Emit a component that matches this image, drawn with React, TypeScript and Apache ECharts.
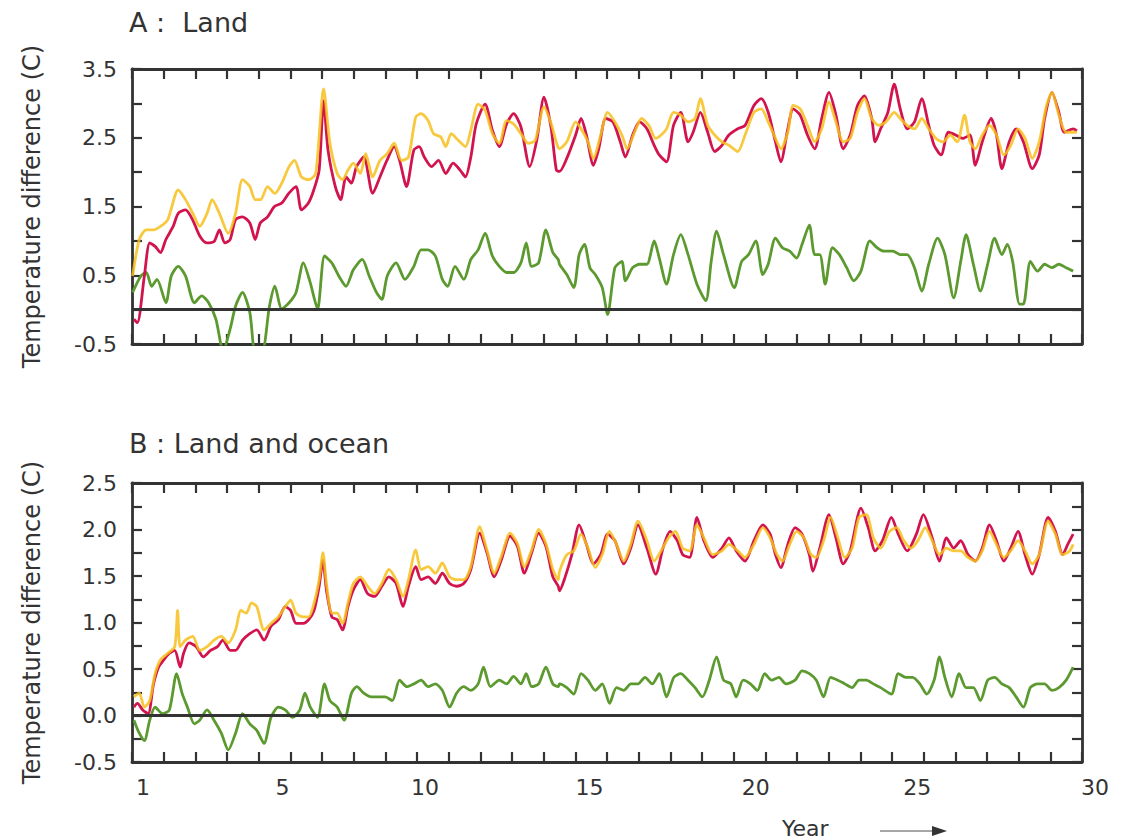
import React, { useEffect, useRef } from "react";
import * as echarts from "echarts";

// ---------- data: [year, temperature difference (C)] ----------
const landRed = [
  [0.06,-0.14],[0.17,-0.19],[0.39,0.49],[0.56,0.97],[0.73,0.92],[0.9,0.83],[1.07,1.02],[1.3,1.21],[1.46,1.4],[1.69,1.45],
  [1.91,1.31],[2.14,1.07],[2.36,0.97],[2.59,0.99],[2.76,1.16],[2.93,0.97],[3.1,1.02],[3.27,1.31],[3.49,1.35],[3.72,1.26],
  [3.89,1.02],[4.05,1.26],[4.28,1.35],[4.5,1.5],[4.73,1.55],[4.95,1.69],[5.18,1.79],[5.35,1.45],[5.57,1.55],[5.74,1.74],
  [5.91,2.03],[6.05,3.04],[6.19,2.32],[6.42,1.79],[6.59,1.6],[6.76,1.93],[6.93,1.84],[7.09,2.08],[7.32,2.22],[7.6,1.69],
  [7.83,1.93],[8.05,2.17],[8.28,2.37],[8.45,2.17],[8.67,1.79],[8.9,2.32],[9.07,2.37],[9.23,2.22],[9.46,2.08],[9.68,2.17],
  [9.91,1.98],[10.14,2.13],[10.36,2.03],[10.53,1.93],[10.7,2.22],[10.87,2.7],[11.15,2.99],[11.38,2.61],[11.6,2.37],[11.83,2.7],
  [12.05,2.85],[12.28,2.66],[12.56,2.08],[12.78,2.46],[13.01,3.09],[13.23,2.66],[13.4,2.03],
  [13.5,2.01],[13.73,2.2],[14.01,2.54],[14.18,2.78],[14.35,2.54],[14.57,2.1],[14.74,2.34],[14.96,2.78],[15.19,2.73],[15.42,2.44],
  [15.58,2.22],[15.81,2.54],[16.03,2.73],[16.26,2.63],[16.49,2.39],[16.65,2.25],[16.88,2.15],[17.1,2.68],[17.33,2.87],[17.56,2.44],
  [17.72,2.58],[17.95,2.87],[18.18,2.58],[18.4,2.3],[18.63,2.39],[18.85,2.54],[19.13,2.63],[19.36,2.68],[19.64,2.97],[19.87,3.07],
  [20.09,2.87],[20.32,2.44],[20.49,2.15],[20.71,2.63],[20.88,2.92],[21.1,2.83],[21.33,2.54],[21.56,2.34],[21.78,2.78],[22.01,3.16],
  [22.23,2.83],[22.46,2.34],[22.68,2.54],[22.91,2.97],[23.13,3.11],[23.36,2.78],[23.47,2.44],[23.64,2.63],[23.87,2.87],[24.07,3.28],
  [24.26,2.92],[24.48,2.63],[24.71,2.73],[24.94,3.07],[25.16,2.68],[25.33,2.39],[25.55,2.25],[25.78,2.58],[26.01,2.54],[26.23,2.49],
  [26.46,2.54],[26.63,2.1],[26.85,2.44],[27.13,2.78],[27.3,2.54],[27.47,2.05],[27.7,2.44],[27.92,2.63],[28.15,2.44],[28.43,2.05],
  [28.65,2.25],[28.82,2.78],[29.05,3.16],[29.27,2.87],[29.44,2.58],[29.72,2.63],[29.84,2.6]
];

const landYellow = [
  [0.02,0.49],[0.23,1.02],[0.45,1.16],[0.68,1.16],[0.9,1.21],[1.13,1.31],[1.46,1.74],[1.69,1.6],[1.92,1.4],[2.14,1.21],
  [2.37,1.4],[2.53,1.6],[2.76,1.4],[3.04,1.11],[3.27,1.4],[3.49,1.89],[3.72,1.79],[3.89,1.6],[4.06,1.6],[4.28,1.79],
  [4.51,1.69],[4.73,1.84],[4.96,2.08],[5.13,2.17],[5.35,1.93],[5.58,1.89],[5.8,1.98],[6.05,3.21],[6.25,2.42],[6.48,1.98],
  [6.65,1.89],[6.82,2.03],[6.99,2.13],[7.21,1.98],[7.38,2.27],[7.6,1.93],[7.83,2.17],[8.06,2.27],[8.28,2.42],[8.51,2.17],
  [8.73,2.22],[8.96,2.8],[9.13,2.85],[9.35,2.75],[9.52,2.56],[9.75,2.51],[9.91,2.37],[10.08,2.56],[10.31,2.46],[10.53,2.37],
  [10.7,2.61],[10.93,2.99],[11.15,2.9],[11.38,2.56],[11.6,2.42],[11.83,2.75],[12.05,2.7],[12.28,2.56],[12.51,2.42],[12.73,2.46],
  [13.01,2.95],[13.24,2.7],[13.41,2.42],
  [13.5,2.34],[13.73,2.44],[14.01,2.73],[14.18,2.63],[14.4,2.44],[14.57,2.2],[14.8,2.54],[15.02,2.87],[15.25,2.73],[15.47,2.54],
  [15.64,2.34],[15.87,2.58],[16.09,2.78],[16.32,2.68],[16.54,2.49],[16.71,2.54],[16.88,2.63],[17.1,2.87],[17.33,2.83],[17.56,2.73],
  [17.78,2.78],[17.95,3.07],[18.18,2.68],[18.4,2.54],[18.63,2.44],[18.85,2.39],[19.13,2.3],[19.36,2.54],[19.64,2.87],[19.87,2.92],
  [20.09,2.73],[20.32,2.49],[20.49,2.34],[20.71,2.58],[20.88,2.97],[21.1,2.92],[21.33,2.68],[21.56,2.44],[21.78,2.63],[22.01,3.02],
  [22.23,2.73],[22.46,2.44],[22.68,2.49],[22.91,2.87],[23.13,3.07],[23.36,2.78],[23.58,2.68],[23.81,2.73],[24.07,2.87],[24.26,2.78],
  [24.48,2.68],[24.71,2.63],[24.94,2.78],[25.16,2.63],[25.39,2.49],[25.61,2.44],[25.84,2.54],[26.06,2.44],[26.29,2.83],[26.46,2.44],
  [26.63,2.34],[26.85,2.54],[27.08,2.68],[27.3,2.54],[27.53,2.25],[27.75,2.39],[27.98,2.63],[28.2,2.49],[28.43,2.2],[28.65,2.44],
  [28.88,2.97],[29.05,3.16],[29.27,2.83],[29.5,2.58],[29.84,2.58]
];

const landGreen = [
  [0.02,0.25],[0.28,0.49],[0.45,0.54],[0.62,0.34],[0.79,0.44],[1.07,0.1],[1.24,0.49],[1.46,0.63],[1.69,0.49],[1.97,0.1],
  [2.2,0.2],[2.42,0.1],[2.65,-0.14],[2.88,-0.6],[3.1,-0.28],[3.27,0.05],[3.49,0.25],[3.72,-0.04],[3.89,-0.6],[4.11,-0.6],
  [4.34,0.05],[4.51,0.34],[4.73,0.01],[4.96,0.1],[5.18,0.25],[5.41,0.68],[5.63,0.39],[5.86,0.01],[6.08,0.78],[6.31,0.68],
  [6.53,0.49],[6.76,0.34],[6.99,0.58],[7.27,0.73],[7.49,0.49],[7.72,0.25],[7.89,0.15],[8.06,0.49],[8.34,0.68],[8.62,0.44],
  [8.9,0.63],[9.13,0.87],[9.35,0.87],[9.58,0.78],[9.8,0.44],[9.97,0.34],[10.2,0.63],[10.48,0.44],[10.7,0.73],[10.93,0.87],
  [11.15,1.11],[11.38,0.78],[11.6,0.63],[11.83,0.54],[12.05,0.54],[12.28,0.68],[12.45,0.97],[12.62,0.63],[12.84,0.68],[13.07,1.16],
  [13.29,0.83],[13.46,0.73],
  [13.5,0.66],[13.73,0.51],[13.95,0.32],[14.12,0.8],[14.29,0.95],[14.46,0.61],[14.63,0.51],[14.85,0.32],[15.02,-0.07],[15.25,0.61],
  [15.47,0.7],[15.58,0.42],[15.81,0.61],[16.03,0.66],[16.26,0.66],[16.49,1.0],[16.65,0.75],[16.88,0.37],[17.1,0.8],[17.33,1.09],
  [17.56,0.8],[17.84,0.37],[18.12,0.13],[18.29,0.7],[18.46,1.14],[18.68,0.8],[19.02,0.32],[19.25,0.7],[19.47,0.8],[19.7,1.0],
  [19.92,0.51],[20.09,0.66],[20.32,1.04],[20.54,0.9],[20.77,0.85],[20.99,0.75],[21.16,0.95],[21.39,1.23],[21.56,0.8],[21.72,0.8],
  [21.89,0.37],[22.12,0.9],[22.34,0.8],[22.57,0.61],[22.79,0.42],[23.02,0.56],[23.3,1.0],[23.53,0.9],[23.75,0.85],[24.03,0.85],
  [24.26,0.8],[24.48,0.8],[24.71,0.61],[24.94,0.27],[25.16,0.66],[25.44,1.04],[25.67,0.8],[25.95,0.17],[26.17,0.7],[26.34,1.09],
  [26.57,0.66],[26.79,0.27],[27.02,0.66],[27.24,1.04],[27.47,0.8],[27.64,0.95],[27.81,0.7],[28.03,0.08],[28.15,0.08],[28.37,0.7],
  [28.6,0.56],[28.82,0.66],[29.05,0.61],[29.27,0.66],[29.5,0.61],[29.72,0.56]
];

const bothRed = [
  [0.06,0.09],[0.17,0.13],[0.34,0.06],[0.51,0.02],[0.68,0.34],[0.84,0.52],[1.01,0.6],[1.18,0.67],[1.35,0.7],[1.52,0.52],
  [1.63,0.67],[1.8,0.78],[2.03,0.74],[2.25,0.63],[2.48,0.7],[2.7,0.74],[2.87,0.81],[3.1,0.7],[3.27,0.7],[3.49,0.81],
  [3.72,0.88],[3.94,0.92],[4.17,0.81],[4.39,0.96],[4.62,1.03],[4.84,1.17],[5.01,1.13],[5.18,0.99],[5.41,0.99],[5.58,1.03],
  [5.75,1.13],[5.91,1.39],[6.03,1.67],[6.14,1.35],[6.31,1.06],[6.48,1.03],[6.65,0.92],[6.82,1.17],[6.99,1.35],[7.21,1.46],
  [7.44,1.31],[7.66,1.28],[7.89,1.39],[8.11,1.49],[8.34,1.42],[8.56,1.17],[8.73,1.39],[8.96,1.6],[9.13,1.46],[9.35,1.49],
  [9.58,1.42],[9.8,1.53],[10.03,1.42],[10.25,1.39],[10.48,1.42],[10.7,1.57],[10.98,1.96],[11.21,1.75],[11.44,1.49],[11.66,1.67],
  [11.94,1.93],[12.17,1.82],[12.39,1.53],[12.62,1.75],[12.84,1.96],[13.07,1.82],[13.29,1.49],[13.46,1.39],
  [13.5,1.34],[13.67,1.48],[13.89,1.73],[14.12,2.05],[14.35,1.84],[14.57,1.63],[14.8,1.73],[15.02,1.95],[15.25,1.88],[15.53,1.63],
  [15.75,1.8],[15.98,2.05],[16.26,1.8],[16.54,1.52],[16.77,1.8],[16.99,1.98],[17.22,1.88],[17.39,1.73],[17.61,1.7],[17.84,2.13],
  [18.06,1.88],[18.34,1.7],[18.63,1.8],[18.85,1.91],[19.08,1.77],[19.36,1.66],[19.64,1.88],[19.92,2.05],[20.15,1.95],[20.32,1.73],
  [20.49,1.59],[20.71,1.84],[20.94,2.02],[21.16,1.95],[21.39,1.73],[21.5,1.55],[21.72,1.8],[22.01,2.16],[22.23,1.91],[22.46,1.63],
  [22.68,1.77],[23.02,2.23],[23.25,2.02],[23.47,1.77],[23.7,1.88],[23.98,2.13],[24.2,1.95],[24.48,1.77],[24.77,1.95],[24.99,2.16],
  [25.27,1.91],[25.5,1.66],[25.72,1.91],[25.95,1.8],[26.17,1.88],[26.4,1.73],[26.63,1.66],[26.85,1.8],[27.08,2.05],[27.3,1.88],
  [27.53,1.66],[27.75,1.8],[27.98,1.98],[28.2,1.73],[28.43,1.52],[28.65,1.73],[28.93,2.13],[29.16,1.98],[29.39,1.73],[29.55,1.84],
  [29.72,1.95]
];

const bothYellow = [
  [0.06,0.2],[0.23,0.24],[0.39,0.09],[0.56,0.16],[0.73,0.45],[0.9,0.6],[1.13,0.67],[1.35,0.74],[1.44,1.13],[1.52,0.74],
  [1.69,0.81],[1.92,0.85],[2.14,0.7],[2.37,0.74],[2.59,0.81],[2.82,0.85],[3.04,0.78],[3.27,0.92],[3.44,1.13],[3.61,1.1],
  [3.77,1.21],[3.94,1.17],[4.17,0.92],[4.39,0.99],[4.62,1.06],[4.84,1.17],[5.01,1.24],[5.18,1.1],[5.41,1.06],[5.58,1.06],
  [5.75,1.21],[5.91,1.46],[6.03,1.75],[6.14,1.42],[6.31,1.1],[6.48,1.1],[6.65,0.99],[6.82,1.21],[6.99,1.42],[7.21,1.49],
  [7.44,1.39],[7.66,1.31],[7.89,1.42],[8.11,1.57],[8.34,1.46],[8.56,1.28],[8.73,1.46],[8.96,1.78],[9.13,1.57],[9.35,1.6],
  [9.58,1.53],[9.8,1.64],[10.03,1.49],[10.25,1.46],[10.48,1.46],[10.7,1.6],[10.98,2.03],[11.21,1.78],[11.44,1.53],[11.66,1.71],
  [11.94,1.96],[12.17,1.85],[12.39,1.6],[12.62,1.78],[12.84,2.0],[13.07,1.85],[13.29,1.57],[13.46,1.46],
  [13.5,1.55],[13.73,1.73],[13.95,1.77],[14.18,1.95],[14.4,1.8],[14.63,1.59],[14.85,1.73],[15.08,1.98],[15.3,1.84],[15.53,1.66],
  [15.75,1.84],[15.98,2.09],[16.26,1.88],[16.49,1.66],[16.71,1.77],[16.94,1.91],[17.16,1.98],[17.39,1.8],[17.61,1.77],[17.84,2.05],
  [18.06,1.91],[18.34,1.73],[18.63,1.77],[18.85,1.84],[19.13,1.77],[19.36,1.7],[19.64,1.84],[19.92,2.02],[20.15,1.91],[20.37,1.73],
  [20.54,1.66],[20.77,1.84],[20.99,1.98],[21.22,1.91],[21.44,1.73],[21.61,1.7],[21.84,1.88],[22.06,2.13],[22.29,1.91],[22.51,1.7],
  [22.74,1.8],[22.96,2.13],[23.19,2.16],[23.41,1.91],[23.64,1.8],[23.92,1.98],[24.15,2.02],[24.37,1.88],[24.6,1.8],[24.82,1.88],
  [25.05,2.02],[25.27,1.88],[25.5,1.73],[25.72,1.8],[25.95,1.77],[26.17,1.77],[26.4,1.7],[26.63,1.66],[26.85,1.77],[27.08,1.98],
  [27.3,1.84],[27.53,1.7],[27.75,1.77],[27.98,1.88],[28.2,1.77],[28.43,1.63],[28.65,1.73],[28.93,2.09],[29.16,1.95],[29.39,1.73],
  [29.61,1.77],[29.72,1.84]
];

const bothGreen = [
  [0.06,-0.05],[0.23,-0.19],[0.39,-0.27],[0.56,-0.05],[0.73,0.09],[0.96,0.02],[1.18,0.06],[1.41,0.45],[1.58,0.24],[1.75,0.09],
  [1.97,-0.09],[2.14,-0.05],[2.37,0.06],[2.59,-0.05],[2.82,-0.19],[3.04,-0.37],[3.27,-0.19],[3.49,0.02],[3.72,-0.09],[3.94,-0.16],
  [4.17,-0.3],[4.39,-0.02],[4.62,0.09],[4.84,0.06],[5.07,-0.02],[5.3,0.06],[5.46,0.24],[5.63,0.09],[5.86,-0.02],[6.08,0.34],
  [6.25,0.16],[6.48,0.09],[6.7,-0.05],[6.93,0.24],[7.1,0.31],[7.32,0.24],[7.55,0.2],[7.77,0.2],[8.0,0.2],[8.22,0.16],
  [8.45,0.38],[8.68,0.31],[8.9,0.34],[9.13,0.38],[9.35,0.31],[9.58,0.34],[9.8,0.27],[10.03,0.09],[10.25,0.24],[10.48,0.31],
  [10.7,0.27],[10.93,0.34],[11.1,0.52],[11.32,0.31],[11.6,0.38],[11.83,0.34],[12.05,0.42],[12.28,0.34],[12.45,0.45],[12.62,0.31],
  [12.84,0.34],[13.07,0.52],[13.29,0.34],[13.46,0.31],
  [13.5,0.34],[13.73,0.3],[13.95,0.23],[14.18,0.45],[14.4,0.38],[14.63,0.27],[14.85,0.34],[15.08,0.13],[15.3,0.3],[15.53,0.27],
  [15.75,0.34],[15.98,0.34],[16.2,0.41],[16.43,0.34],[16.65,0.45],[16.88,0.2],[17.11,0.41],[17.33,0.45],[17.56,0.38],[17.78,0.3],
  [18.01,0.2],[18.23,0.38],[18.46,0.63],[18.68,0.38],[18.91,0.34],[19.08,0.2],[19.3,0.38],[19.53,0.34],[19.75,0.27],[19.98,0.45],
  [20.2,0.38],[20.43,0.41],[20.65,0.34],[20.94,0.38],[21.16,0.48],[21.39,0.45],[21.61,0.38],[21.84,0.2],[22.06,0.41],[22.29,0.38],
  [22.51,0.34],[22.74,0.3],[22.96,0.38],[23.19,0.38],[23.41,0.34],[23.64,0.3],[23.98,0.23],[24.2,0.45],[24.43,0.41],[24.65,0.41],
  [24.88,0.34],[25.1,0.23],[25.33,0.38],[25.5,0.63],[25.67,0.41],[25.89,0.2],[26.12,0.45],[26.34,0.3],[26.57,0.3],[26.79,0.16],
  [27.02,0.38],[27.24,0.41],[27.47,0.34],[27.7,0.3],[27.92,0.2],[28.15,0.09],[28.37,0.3],[28.6,0.34],[28.82,0.34],[29.05,0.27],
  [29.27,0.3],[29.5,0.38],[29.72,0.52]
];

// x tick labels (years) and where they sit on the year axis
const xLabelText = ["1", "5", "10", "15", "20", "25", "30"];
const xLabelAt = [0.35, 4.75, 9.25, 14.45, 19.7, 24.8, 30];

const panelTitles = ["A :  Land", "B : Land and ocean"];
const yName = "Temperature difference (C)";

const FONT = "'DejaVu Sans', 'Liberation Sans', sans-serif";
const INK = "#333";
const RED = "#d2144e";
const YELLOW = "#f7bf1c";
const GREEN = "#5c9a30";

export default function App() {
  const ref = useRef<HTMLDivElement>(null);

  useEffect(() => {
    if (!ref.current) return;
    const chart = echarts.init(ref.current, null, { renderer: "svg" });

    const frameLine = { show: true, onZero: false, lineStyle: { color: INK, width: 2.8 } };
    const tick = { show: true, inside: true, length: 10, lineStyle: { color: INK, width: 2.2 } };
    const lastLabel = xLabelText[xLabelText.length - 1];

    const xBase = (grid: number, pos: "top" | "bottom", labels: boolean) => ({
      type: "value",
      gridIndex: grid,
      position: pos,
      min: 0,
      max: 30,
      interval: 1,
      axisLine: frameLine,
      axisTick: tick,
      splitLine: { show: false },
      axisLabel: labels
        ? {
            show: true,
            customValues: xLabelAt,
            formatter: (v: number) => {
              const i = xLabelAt.findIndex((p) => Math.abs(p - v) < 1e-6);
              if (i < 0) return "";
              const s = xLabelText[i];
              return s === lastLabel ? "{end|" + s + "}" : s;
            },
            rich: {
              end: { padding: [0, 0, 0, 26], color: INK, fontSize: 22, fontFamily: FONT },
            },
            color: INK,
            fontSize: 22,
            fontFamily: FONT,
            margin: 14,
          }
        : { show: false },
    });

    const yBase = (
      grid: number,
      pos: "left" | "right",
      min: number,
      max: number,
      interval: number,
      labelStep: number,
      labels: boolean
    ) => ({
      type: "value",
      gridIndex: grid,
      position: pos,
      min,
      max,
      interval,
      axisLine: frameLine,
      axisTick: tick,
      splitLine: { show: false },
      name: labels ? yName : "",
      nameLocation: "middle",
      nameGap: 88,
      nameTextStyle: { color: INK, fontSize: 24, fontFamily: FONT },
      axisLabel: labels
        ? {
            show: true,
            color: INK,
            fontSize: 22,
            fontFamily: FONT,
            margin: 15,
            formatter: (v: number) => {
              const k = (v - min) / labelStep;
              return Math.abs(k - Math.round(k)) < 1e-6 ? v.toFixed(1) : "";
            },
          }
        : { show: false },
    });

    const line = (data: number[][], color: string, xi: number, yi: number, extra: any = {}) => ({
      type: "line",
      data,
      xAxisIndex: xi,
      yAxisIndex: yi,
      showSymbol: false,
      smooth: 0.25,
      clip: true,
      lineStyle: { color, width: 2.8 },
      itemStyle: { color },
      ...extra,
    });

    const zero = {
      markLine: {
        silent: true,
        symbol: ["none", "none"],
        label: { show: false },
        lineStyle: { color: INK, width: 2.8, type: "solid" },
        data: [{ yAxis: 0 }],
      },
    };

    const titleStyle = { color: INK, fontSize: 27, fontWeight: "normal", fontFamily: FONT };

    chart.setOption({
      animation: false,
      backgroundColor: "#fff",
      title: [
        { text: panelTitles[0], left: 129, top: 9, padding: 0, textStyle: titleStyle },
        { text: panelTitles[1], left: 129, top: 430, padding: 0, textStyle: titleStyle },
      ],
      grid: [
        { left: 132, right: 42, top: 69, height: 275 },
        { left: 132, right: 42, top: 483, height: 279 },
      ],
      xAxis: [
        xBase(0, "bottom", false),
        xBase(0, "top", false),
        xBase(1, "bottom", true),
        xBase(1, "top", false),
      ],
      yAxis: [
        yBase(0, "left", -0.5, 3.5, 0.5, 1, true),
        yBase(0, "right", -0.5, 3.5, 0.5, 1, false),
        yBase(1, "left", -0.5, 2.5, 0.25, 0.5, true),
        yBase(1, "right", -0.5, 2.5, 0.25, 0.5, false),
      ],
      series: [
        line(landGreen, GREEN, 0, 0, zero),
        line(landRed, RED, 0, 0),
        line(landYellow, YELLOW, 0, 0, { lineStyle: { color: YELLOW, width: 2.8, opacity: 0.85 } }),
        line(bothGreen, GREEN, 2, 2, zero),
        line(bothRed, RED, 2, 2),
        line(bothYellow, YELLOW, 2, 2, { lineStyle: { color: YELLOW, width: 2.8, opacity: 0.85 } }),
      ],
      graphic: [
        {
          type: "text",
          left: 782,
          top: 817,
          style: { text: "Year", fill: INK, fontSize: 22, fontFamily: FONT },
        },
        {
          type: "line",
          shape: { x1: 880, y1: 831, x2: 934, y2: 831 },
          style: { stroke: "#888", lineWidth: 1.5 },
        },
        {
          type: "polygon",
          shape: { points: [[932, 826], [947, 831], [932, 836]] },
          style: { fill: INK },
        },
      ],
    });

    return () => chart.dispose();
  }, []);

  return (
    <div
      ref={ref}
      style={{ position: "fixed", left: 0, top: 0, width: 1124, height: 840, background: "#fff" }}
    />
  );
}
